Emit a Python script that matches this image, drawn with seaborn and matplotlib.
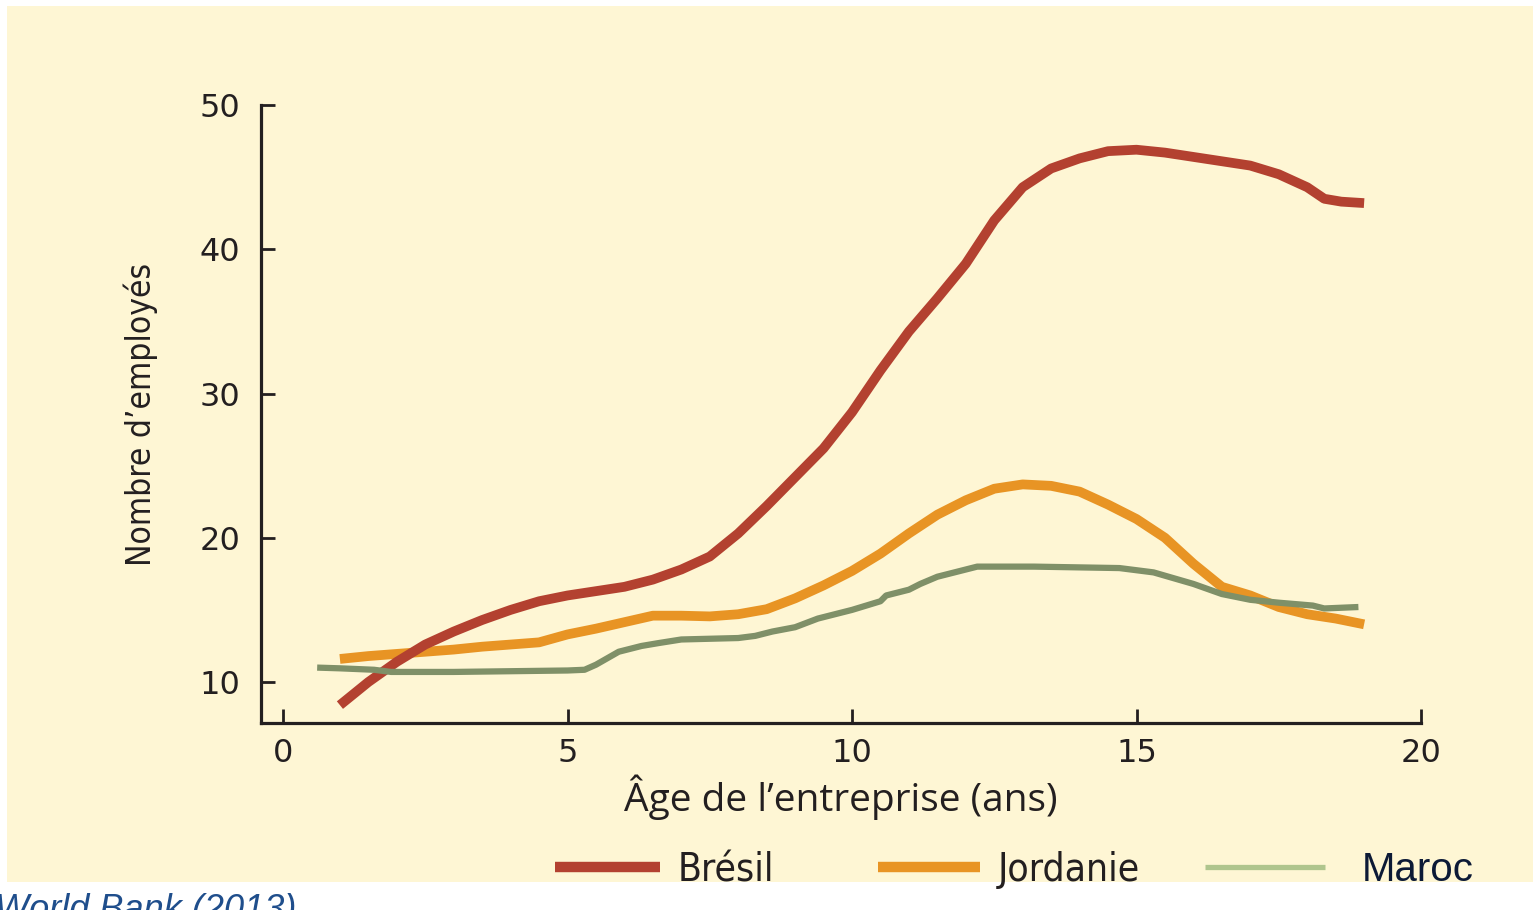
import matplotlib.pyplot as plt
from matplotlib.lines import Line2D
from matplotlib.patches import Rectangle
import seaborn as sns

# Brésil
age_bresil = [1.0, 1.5, 2.0, 2.5, 3.0, 3.5, 4.0, 4.5, 5.0, 5.5, 6.0, 6.5, 7.0, 7.5,
              8.0, 8.5, 9.0, 9.5, 10.0, 10.5, 11.0, 11.5, 12.0, 12.5, 13.0, 13.5,
              14.0, 14.5, 15.0, 15.5, 16.0, 16.5, 17.0, 17.5, 18.0, 18.3, 18.6, 19.0]
emp_bresil = [8.4, 10.0, 11.4, 12.6, 13.5, 14.3, 15.0, 15.6, 16.0, 16.3, 16.6, 17.1,
              17.8, 18.7, 20.3, 22.2, 24.2, 26.2, 28.7, 31.6, 34.3, 36.6, 39.0, 42.0,
              44.3, 45.6, 46.3, 46.8, 46.9, 46.7, 46.4, 46.1, 45.8, 45.2, 44.3, 43.5,
              43.3, 43.2]

# Jordanie
age_jordanie = [1.0, 1.5, 2.0, 2.5, 3.0, 3.5, 4.0, 4.5, 5.0, 5.5, 6.0, 6.5, 7.0, 7.5,
                8.0, 8.5, 9.0, 9.5, 10.0, 10.5, 11.0, 11.5, 12.0, 12.5, 13.0, 13.5,
                14.0, 14.5, 15.0, 15.5, 16.0, 16.5, 17.0, 17.5, 18.0, 18.5, 19.0]
emp_jordanie = [11.6, 11.8, 11.95, 12.1, 12.25, 12.45, 12.6, 12.75, 13.3, 13.7, 14.15,
                14.6, 14.6, 14.55, 14.7, 15.05, 15.8, 16.7, 17.7, 18.9, 20.3, 21.6,
                22.6, 23.4, 23.7, 23.6, 23.2, 22.3, 21.3, 20.0, 18.2, 16.6, 16.0, 15.2,
                14.7, 14.4, 14.0]

# Maroc
age_maroc = [0.6, 1.0, 1.6, 1.9, 2.5, 3.0, 4.0, 5.0, 5.3, 5.5, 5.9, 6.3, 6.6, 7.0,
             7.5, 8.0, 8.3, 8.6, 9.0, 9.4, 10.0, 10.5, 10.6, 11.0, 11.2, 11.5, 12.0,
             12.2, 13.2, 14.7, 15.3, 16.0, 16.5, 17.0, 17.5, 18.1, 18.3, 18.9]
emp_maroc = [11.0, 10.95, 10.85, 10.7, 10.7, 10.7, 10.75, 10.8, 10.85, 11.2, 12.1, 12.5,
             12.7, 12.95, 13.0, 13.05, 13.2, 13.5, 13.8, 14.4, 15.0, 15.6, 16.0, 16.4,
             16.8, 17.3, 17.8, 18.0, 18.0, 17.9, 17.6, 16.8, 16.1, 15.7, 15.5, 15.3,
             15.1, 15.2]

x_ticks = [0, 5, 10, 15, 20]
y_ticks = [10, 20, 30, 40, 50]

bg = "#FEF6D4"
ink = "#231F20"
c_bresil = "#B34130"
c_jordanie = "#E89424"
c_maroc = "#7F9068"
c_maroc_legend = "#AFC58D"

sns.set_style("ticks")
plt.rcParams["font.family"] = ["DejaVu Sans"]
humanist = ["Open Sans", "DejaVu Sans"]
arial = ["Liberation Sans", "DejaVu Sans"]

W, H = 1533, 910
fig = plt.figure(figsize=(W / 100, H / 100), dpi=100, facecolor="white")
fig.patches.append(Rectangle((7 / W, 1 - 882 / H), 1, 876 / H, transform=fig.transFigure,
                             facecolor=bg, edgecolor="none", zorder=-5))
ax = fig.add_axes([261 / W, 1 - 723 / H, 1160 / W, 618 / H])
ax.set_facecolor("none")

sns.lineplot(x=age_bresil, y=emp_bresil, ax=ax, color=c_bresil, lw=7,
             solid_capstyle="butt", zorder=3)
sns.lineplot(x=age_jordanie, y=emp_jordanie, ax=ax, color=c_jordanie, lw=7,
             solid_capstyle="butt", zorder=2)
sns.lineplot(x=age_maroc, y=emp_maroc, ax=ax, color=c_maroc, lw=4.5,
             solid_capstyle="butt", zorder=4)

ax.set_xlim(-0.387, 20)
ax.set_ylim(7.16, 50)
ax.set_xticks(x_ticks)
ax.set_yticks(y_ticks)
for s in ["top", "right"]:
    ax.spines[s].set_visible(False)
for s in ["left", "bottom"]:
    ax.spines[s].set_color(ink)
    ax.spines[s].set_linewidth(2.3)
ax.tick_params(direction="in", length=10, width=2, color=ink, labelcolor=ink,
               labelsize=23, pad=11)
ax.tick_params(axis="y", pad=15)

ax.set_xlabel("Âge de l’entreprise (ans)", fontsize=28, family=humanist,
              color=ink, labelpad=4)
ax.set_ylabel("Nombre d’employés", fontsize=24, family=["DejaVu Sans"],
              fontstretch="condensed", color=ink, labelpad=30)

# one legend per entry so each can sit where the original has it
legend_items = [
    (Line2D([], [], color=c_bresil, lw=7.5, solid_capstyle="butt"), "Brésil", 555, 105,
     ["DejaVu Sans"], 28, ink, 18),
    (Line2D([], [], color=c_jordanie, lw=7.5, solid_capstyle="butt"), "Jordanie", 878, 102,
     ["DejaVu Sans"], 28, ink, 18),
    (Line2D([], [], color=c_maroc_legend, lw=3.8, solid_capstyle="butt"), "Maroc", 1205, 120,
     arial, 29, "#0C1A36", 37),
]
for handle, name, x0, hlen, fam, size, col, gap in legend_items:
    em = size * 100 / 72
    leg = fig.legend([handle], [name], loc="center left",
                     bbox_to_anchor=(x0 / W, 1 - 870 / H), frameon=False,
                     prop={"family": fam, "size": size,
                           "stretch": "normal" if name == "Maroc" else "condensed"},
                     handlelength=hlen / em, handletextpad=gap / em,
                     borderpad=0, borderaxespad=0)
    leg.get_texts()[0].set_color(col)

fig.text(-5 / W, 1 - 893 / H, "World Bank (2013)", fontsize=26, style="italic",
         family=arial, color="#1F4E8C", va="top")

fig.savefig("out.png", dpi=100, facecolor="white")
